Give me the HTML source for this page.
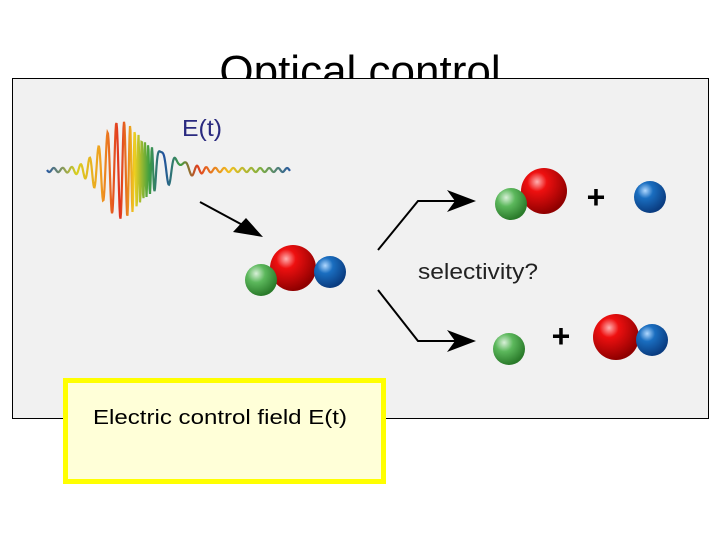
<!DOCTYPE html>
<html><head><style>
body{margin:0;width:720px;height:540px;background:#fff;overflow:hidden;font-family:"Liberation Sans",sans-serif}
</style></head><body>
<svg width="720" height="540" viewBox="0 0 720 540" xmlns="http://www.w3.org/2000/svg">
<defs>
<radialGradient id="r" cx="0.35" cy="0.3" r="0.7"><stop offset="0" stop-color="#ffb0b0"/><stop offset="0.3" stop-color="#ee1010"/><stop offset="1" stop-color="#900000"/></radialGradient>
<radialGradient id="g" cx="0.35" cy="0.3" r="0.7"><stop offset="0" stop-color="#d8f0d8"/><stop offset="0.4" stop-color="#5cb85c"/><stop offset="1" stop-color="#2a7a2a"/></radialGradient>
<radialGradient id="b" cx="0.35" cy="0.3" r="0.7"><stop offset="0" stop-color="#b0d8ff"/><stop offset="0.35" stop-color="#1a6ec0"/><stop offset="1" stop-color="#0a3c80"/></radialGradient>
<linearGradient id="w" x1="47" x2="290" gradientUnits="userSpaceOnUse">
<stop offset="0" stop-color="#2a5aa0"/><stop offset="0.12" stop-color="#d8d020"/><stop offset="0.22" stop-color="#f0a020"/><stop offset="0.3" stop-color="#e03020"/><stop offset="0.36" stop-color="#f0d020"/><stop offset="0.42" stop-color="#40a040"/><stop offset="0.48" stop-color="#2050a0"/><stop offset="0.55" stop-color="#40a040"/><stop offset="0.62" stop-color="#e04020"/><stop offset="0.75" stop-color="#f0c020"/><stop offset="0.88" stop-color="#80b040"/><stop offset="1" stop-color="#2a5aa0"/></linearGradient>
</defs>
<text x="360" y="86" text-anchor="middle" font-size="44" fill="#000">Optical control</text>
<rect x="12.5" y="78.5" width="696" height="340" fill="#f1f1f1" stroke="#000" stroke-width="1"/>
<path id="wave" fill="none" stroke="url(#w)" stroke-width="2.2" d=""/>
<script>
(function(){var d="";for(var x=47;x<=290;x+=0.5){var a=45*Math.exp(-Math.pow((x-120)/25,2))+13*Math.exp(-Math.pow((x-160)/28,2))+2;var f=0.7+0.25*Math.exp(-Math.pow((x-155)/18,2));var y=170+a*Math.sin((x-47)*f);d+=(x==47?"M":"L")+x+","+y.toFixed(1);}document.getElementById("wave").setAttribute("d",d);})();
</script>
<text x="182" y="136" font-size="23" fill="#2a2a80" textLength="40" lengthAdjust="spacingAndGlyphs">E(t)</text>
<g stroke="#000" stroke-width="2" fill="none">
<line x1="200" y1="202" x2="250" y2="229"/>
<polyline points="378,250 418,201 462,201"/>
<polyline points="378,290 418,341 462,341"/>
</g>
<polygon points="263,237 233,232 246,218" fill="#000"/>
<polygon points="476,201 447,190 455,201 447,212" fill="#000"/>
<polygon points="476,341 447,330 455,341 447,352" fill="#000"/>
<circle cx="293" cy="268" r="23" fill="url(#r)"/>
<circle cx="261" cy="280" r="16" fill="url(#g)"/>
<circle cx="330" cy="272" r="16" fill="url(#b)"/>
<circle cx="544" cy="191" r="23" fill="url(#r)"/>
<circle cx="511" cy="204" r="16" fill="url(#g)"/>
<text x="596" y="208" text-anchor="middle" font-size="32" font-weight="bold">+</text>
<circle cx="650" cy="197" r="16" fill="url(#b)"/>
<text x="418" y="279" font-size="22" fill="#222" textLength="120" lengthAdjust="spacingAndGlyphs">selectivity?</text>
<circle cx="509" cy="349" r="16" fill="url(#g)"/>
<text x="561" y="347" text-anchor="middle" font-size="32" font-weight="bold">+</text>
<circle cx="616" cy="337" r="23" fill="url(#r)"/>
<circle cx="652" cy="340" r="16" fill="url(#b)"/>
<rect x="65.5" y="380.5" width="318" height="101" fill="#ffffd8" stroke="#ffff00" stroke-width="5"/>
<text x="93" y="424" font-size="20" fill="#000" textLength="254" lengthAdjust="spacingAndGlyphs">Electric control field E(t)</text>
</svg>
</body></html>
